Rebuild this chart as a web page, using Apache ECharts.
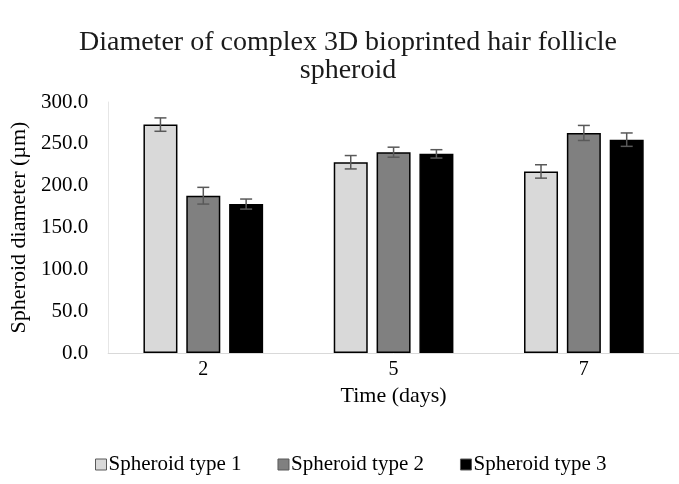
<!DOCTYPE html>
<html><head><meta charset="utf-8">
<script src="https://cdn.jsdelivr.net/npm/echarts@6/dist/echarts.min.js"></script>
<style>html,body{margin:0;padding:0;background:#fff}#c{width:679px;height:484px}</style>
</head><body><div id="c"></div>
<script>
var categories = ['2', '5', '7'];
var yTicks = [0, 50, 100, 150, 200, 250, 300];
var seriesNames = ['Spheroid type 1', 'Spheroid type 2', 'Spheroid type 3'];
var type1 = [273, 228, 217];
var type2 = [188, 240, 263];
var type3 = [178, 238, 255];
var err1 = [8, 8, 8];
var err2 = [10, 6, 9];
var err3 = [6, 5, 8];
var colors = ['#d9d9d9', '#808080', '#000000'];

var values = [type1, type2, type3];
var errs = [err1, err2, err3];
var BAR_W = 34, GAP = 0.26;
var serif = '"Liberation Serif", "DejaVu Serif", serif';

var series = [];
values.forEach(function (v, i) {
  series.push({
    name: seriesNames[i], type: 'bar', data: v,
    barWidth: BAR_W, barGap: (GAP * 100) + '%',
    itemStyle: { color: colors[i], borderColor: '#000', borderWidth: 1.5 }
  });
});
values.forEach(function (v, i) {
  series.push({
    type: 'custom', silent: true, z: 10,
    data: v.map(function (val, k) { return [k, val, errs[i][k]]; }),
    encode: { x: 0, y: 1 },
    renderItem: function (params, api) {
      var k = api.value(0), val = api.value(1), e = api.value(2);
      var off = (i - 1) * BAR_W * (1 + GAP);
      var top = api.coord([k, val + e]);
      var bot = api.coord([k, val - e]);
      var x = top[0] + off, cap = 6;
      var st = { stroke: '#595959', lineWidth: 1.5 };
      return { type: 'group', children: [
        { type: 'line', shape: { x1: x, y1: top[1], x2: x, y2: bot[1] }, style: st },
        { type: 'line', shape: { x1: x - cap, y1: top[1], x2: x + cap, y2: top[1] }, style: st },
        { type: 'line', shape: { x1: x - cap, y1: bot[1], x2: x + cap, y2: bot[1] }, style: st }
      ]};
    }
  });
});

var chart = echarts.init(document.getElementById('c'));
chart.setOption({
  animation: false,
  title: {
    text: 'Diameter of complex 3D bioprinted hair follicle\nspheroid',
    left: 343, top: 24, textAlign: 'center',
    textStyle: { fontFamily: serif, fontSize: 28, fontWeight: 'normal', color: '#1a1a1a', lineHeight: 28 }
  },
  legend: {
    data: seriesNames, bottom: 4, left: 90, icon: 'rect',
    itemWidth: 11, itemHeight: 11, itemGap: 36,
    itemStyle: { borderColor: '#595959', borderWidth: 1 },
    textStyle: { fontFamily: serif, fontSize: 21, color: '#000', padding: [0, 0, 0, -3] }
  },
  grid: { left: 108, right: 0, top: 102, bottom: 131 },
  xAxis: {
    type: 'category', data: categories,
    name: 'Time (days)', nameLocation: 'middle', nameGap: 14,
    nameTextStyle: { fontFamily: serif, fontSize: 22, color: '#000' },
    axisLine: { lineStyle: { color: '#d9d9d9', width: 1 } },
    axisTick: { show: false },
    axisLabel: { fontFamily: serif, fontSize: 20, color: '#000', margin: 7 },
    barCategoryGap: '37%'
  },
  yAxis: {
    type: 'value', min: yTicks[0], max: yTicks[yTicks.length - 1], interval: 50,
    name: 'Spheroid diameter (µm)', nameLocation: 'middle', nameGap: 69, nameRotate: 90,
    nameTextStyle: { fontFamily: serif, fontSize: 22, color: '#000' },
    axisLine: { show: true, lineStyle: { color: '#e6e6e6' } },
    axisTick: { show: false },
    splitLine: { show: false },
    axisLabel: { fontFamily: serif, fontSize: 21, color: '#000', margin: 20,
      formatter: function (v) { return v.toFixed(1); } }
  },
  series: series
});
</script></body></html>
